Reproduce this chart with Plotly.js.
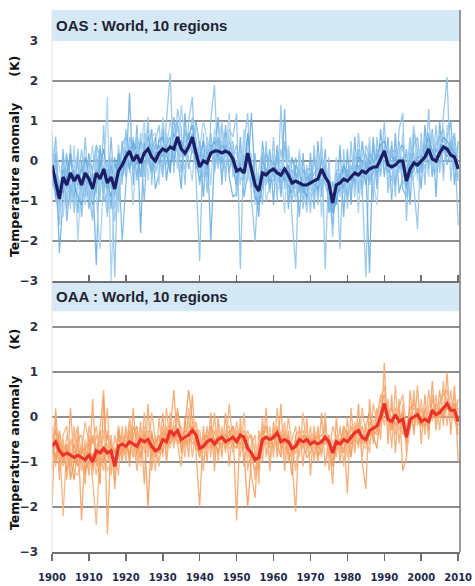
<!DOCTYPE html>
<html>
<head>
<meta charset="utf-8">
<script src="https://cdn.plot.ly/plotly-3.0.1.min.js"></script>
<style>html,body{margin:0;padding:0;background:#fff;}#chart{width:475px;height:586px;}</style>
</head>
<body>
<div id="chart"></div>
<script>
// ---------------- DATA ----------------
const firstYear = 1900, lastYear = 2010;
const years = [];
for (let y = firstYear; y <= lastYear; y++) years.push(y);

const panelTitles = ["OAS : World, 10 regions", "OAA : World, 10 regions"];
const yAxisTitle = "Temperature anomaly\u00a0\u00a0\u00a0\u00a0\u00a0\u00a0(K)";
const yTickValsTop = [-3, -2, -1, 0, 1, 2, 3];
const yTickValsBottom = [-3, -2, -1, 0, 1, 2];
const xTickVals = [1900,1910,1920,1930,1940,1950,1960,1970,1980,1990,2000,2010];

// OAS (top panel) – 10 regional series
const oasR1 = [0.5,-0.8,-1.6,0.2,-1.2,0.4,-1.1,0.3,-0.9,0.6,
 -0.9,-1.4,0.3,-1.0,0.9,-1.3,0.1,-2.9,0.4,-0.6,
 0.8,-0.3,0.6,-0.5,0.7,-0.4,1.1,-0.6,0.5,0.9,
 -0.2,0.9,2.2,-0.3,1.3,0.8,-0.6,1.0,1.6,-0.4,
 -2.5,0.7,-0.8,1.0,1.9,-0.2,0.9,-0.5,0.8,0.6,
 1.2,-2.7,0.4,1.2,-0.9,-2.0,-0.3,-1.1,0.5,-0.8,
 0.6,-1.0,1.4,-0.7,0.3,-1.4,-2.7,0.2,-1.2,-0.1,
 -1.3,0.4,-1.1,0.6,-2.7,0.1,-1.9,-0.2,-2.2,0.3,
 -1.2,0.5,-0.9,0.7,-0.6,-2.9,0.4,-1.0,0.6,-0.3,
 1.0,-0.8,0.5,-0.9,0.8,1.2,-1.5,0.4,-0.6,-1.7,
 0.7,-0.6,1.3,-0.4,0.9,-0.3,1.1,2.1,-0.5,0.6,
 -1.6];
const oasR2 = [-0.6,0.2,-2.3,-0.9,0.1,-1.0,-0.2,-1.3,0.0,-0.8,
 0.2,-0.3,-2.6,0.4,-0.8,-0.2,-1.2,0.1,-1.0,0.5,
 -0.4,1.7,-0.6,0.9,-1.8,0.7,0.2,0.8,-0.7,-0.3,
 0.9,-0.5,0.4,1.1,0.2,-0.7,1.2,-0.2,0.3,1.0,
 0.4,-0.9,0.6,-2.0,0.1,1.1,-0.6,0.7,-0.4,-0.9,
 -0.8,0.6,-0.9,-0.3,1.2,-0.5,-1.4,0.5,-0.4,0.3,
 -1.1,0.4,-0.8,1.3,-1.2,0.1,-0.3,-1.4,0.2,-1.1,
 0.2,-1.2,0.5,-0.9,0.3,-1.3,-0.5,-1.1,0.4,-1.4,
 0.3,-1.1,0.6,-0.8,0.5,-0.2,-2.8,0.6,-0.7,0.8,
 -0.4,0.6,-1.0,0.7,-0.8,-0.4,0.3,-1.1,0.8,0.2,
 -0.7,0.9,-0.2,0.8,-0.9,1.0,-0.3,0.6,1.0,-0.6,
 0.5];
const oasR3 = [0.3,-0.2,-0.5,-1.4,-0.3,-1.2,0.4,-2.0,-0.4,-1.1,
 -0.3,0.4,-0.9,-2.2,-0.4,1.6,-3.0,-0.5,-1.3,0.2,
 0.5,0.1,-1.1,0.4,0.3,1.0,-0.5,0.6,0.7,-0.6,
 1.1,0.3,1.0,0.5,-0.2,1.4,0.6,0.1,-0.5,0.9,
 0.3,1.0,0.5,-0.6,0.8,0.4,1.0,0.1,1.2,-0.4,
 -0.2,-0.6,0.8,-0.5,0.2,-1.1,-0.2,0.3,-1.0,-0.6,
 0.2,-0.6,-0.1,-1.3,0.4,-0.4,-1.0,0.3,-0.6,-1.3,
 -0.4,-1.0,0.2,-1.4,0.1,-0.6,-1.3,0.1,-0.9,-0.6,
 -0.3,-0.7,0.2,-1.3,0.3,-0.4,0.6,-0.5,-1.1,0.4,
 0.6,-0.4,-0.8,0.2,-0.3,0.7,-0.8,0.1,0.9,-0.5,
 0.4,0.2,-0.4,0.7,0.2,0.6,-0.5,0.9,0.5,-0.2,
 0.3];
const oasR4 = [-0.7,0.6,-1.1,0.3,-1.5,-0.6,-0.9,0.1,-1.4,-0.2,
 -1.2,-0.2,0.4,0.1,-1.0,-0.8,0.6,-0.9,0.1,-2.0,
 -0.6,0.6,0.3,-0.4,0.2,-1.0,0.8,-0.2,0.4,0.3,
 -0.4,0.6,-0.2,0.8,1.0,0.1,0.3,0.7,0.2,0.5,
 -0.6,0.2,-0.4,0.7,-0.2,0.6,-0.1,0.9,-0.3,0.4,
 -0.5,0.1,-0.6,0.6,-0.6,0.2,-1.0,0.2,-0.6,-0.2,
 -0.4,0.1,-0.9,0.5,-0.5,-1.0,-0.4,-0.8,-0.2,-0.7,
 -0.6,0.1,-0.8,-0.3,-0.6,-0.9,-1.6,-0.3,-0.8,-0.2,
 -0.9,-0.1,-0.6,0.3,-0.7,0.2,-0.6,0.5,-0.4,0.1,
 0.2,-0.3,0.4,-0.6,0.5,-0.7,-0.9,-0.2,0.4,0.6,
 -0.3,0.5,0.7,-0.4,0.4,0.6,0.8,-0.1,0.3,0.7,
 -0.4];
const oasR5 = [0.7,-1.0,-0.8,-0.2,0.2,-0.4,-1.3,-0.6,0.3,-0.5,
 -0.7,-1.5,-0.1,0.2,-0.6,-1.4,-0.2,-1.2,-0.5,0.3,
 0.2,0.4,-0.3,0.7,0.1,0.5,-0.1,0.3,-0.2,0.6,
 0.5,-0.1,0.3,0.2,0.9,0.2,-0.2,0.5,1.1,0.3,
 0.2,-0.4,0.3,0.6,-0.3,0.2,0.5,-0.2,0.3,0.5,
 -0.9,0.3,-0.1,0.5,-0.4,-0.7,-0.6,-0.2,0.2,-0.4,
 -0.2,-0.5,0.3,-0.4,-0.8,-0.2,-0.7,-0.5,-1.0,-0.3,
 -0.7,-0.9,-0.1,0.3,-0.4,-0.3,-1.0,-0.9,-0.3,-0.8,
 -0.5,-0.6,0.1,-0.2,-0.9,0.4,0.1,-0.3,0.2,-0.4,
 0.4,0.1,-0.5,0.3,0.1,-0.6,-0.3,0.6,-0.3,0.3,
 0.2,-0.2,0.5,0.1,-0.3,0.4,0.5,0.4,0.2,0.3,
 0.1];
const oasR6 = [-0.3,-0.9,-0.6,-0.8,-0.4,0.2,-0.6,-0.9,-1.1,0.1,
 -0.4,-1.1,-0.6,-0.1,0.3,-0.5,-0.9,-0.4,0.2,-0.3,
 0.3,-0.2,0.5,0.2,-0.4,0.4,0.6,0.3,0.1,0.5,
 0.6,0.2,-0.3,0.7,0.4,0.5,0.3,0.6,0.9,0.1,
 0.1,0.5,-0.2,0.3,0.5,0.1,0.4,0.3,0.2,-0.1,
 -0.3,-0.1,-0.4,0.7,-0.2,-0.9,-1.1,-0.6,-0.2,-0.5,
 -0.5,-0.2,-0.4,-0.3,-0.6,-0.8,-0.1,-0.3,-0.7,-0.9,
 -0.3,-0.6,-0.7,0.1,-0.2,-0.8,-1.3,-1.0,-0.5,-0.1,
 -0.4,-0.3,-0.5,0.1,0.0,-0.6,0.0,-0.2,0.1,0.4,
 0.5,0.2,0.1,0.0,0.3,0.4,-0.6,-0.4,-0.1,0.1,
 0.1,0.3,0.6,0.2,0.1,0.3,0.6,0.5,0.3,0.2,
 -0.1];
const oasR7 = [0.0,-0.4,-1.3,-0.1,-0.9,-0.5,-0.2,0.2,-0.8,-0.6,
 -0.8,-0.5,-0.4,-0.7,-0.1,-0.9,-0.4,-1.5,-0.7,-0.2,
 -0.3,0.5,0.1,0.0,0.4,0.2,0.7,0.4,-0.3,0.1,
 0.2,0.7,0.1,0.4,0.8,0.6,0.5,0.2,0.4,0.6,
 -0.3,0.3,0.4,0.5,0.2,-0.1,0.3,0.6,0.0,0.2,
 0.2,-0.5,-0.3,-0.2,-0.7,-0.3,-0.9,-0.4,-0.6,0.1,
 0.1,-0.7,-0.6,0.2,-0.3,-0.7,-0.9,-0.2,-0.4,-0.5,
 -0.9,-0.4,-0.6,-0.5,0.1,-0.9,-0.8,-0.4,-0.2,-0.6,
 -0.6,-0.2,-0.4,-0.6,-0.3,0.1,-0.4,0.1,-0.1,0.3,
 0.1,0.4,-0.2,-0.4,0.2,0.3,-0.2,-0.6,-0.4,-0.2,
 0.3,0.0,0.2,-0.2,0.5,0.1,0.2,0.4,0.0,0.4,
 0.2];
const oasR8 = [-0.5,-0.1,-0.7,-0.6,-0.2,-0.8,-0.4,-0.3,-0.7,-0.9,
 0.1,-0.9,-0.2,-0.5,-0.6,0.0,-0.7,-0.3,-0.4,0.4,
 0.6,0.2,-0.2,0.4,-0.3,-0.1,0.4,0.2,0.6,-0.1,
 0.4,0.1,0.5,-0.1,0.6,-0.3,0.8,0.3,0.5,-0.2,
 0.5,-0.2,0.1,0.2,0.6,0.4,-0.4,0.3,0.5,0.1,
 0.4,-0.3,0.1,0.3,-0.3,-0.8,-0.4,-0.7,0.2,-0.2,
 -0.4,0.3,-0.6,-0.4,-0.2,-0.5,0.1,-0.7,-0.5,-0.2,
 -0.2,-0.8,-0.4,-0.6,-0.3,-0.4,-1.1,-0.6,-0.7,-0.5,
 -0.3,-0.8,-0.1,-0.4,-0.1,0.0,-0.5,-0.3,0.3,0.0,
 0.0,-0.3,0.2,0.3,-0.2,0.1,-0.4,0.2,-0.2,0.0,
 -0.2,0.4,0.1,0.3,-0.1,0.0,0.4,0.2,0.5,-0.1,
 -0.5];
const oasR9 = [0.2,-0.7,-0.9,-0.2,-0.7,0.0,-0.3,-0.6,-0.2,-0.4,
 -0.6,-0.3,-0.8,0.3,-0.3,-0.7,-0.1,-0.6,0.0,-0.4,
 0.0,0.3,0.4,-0.1,0.5,0.3,0.1,-0.3,0.2,0.4,
 0.1,0.4,0.6,0.0,0.5,0.4,0.1,0.4,0.7,0.0,
 -0.5,0.1,0.2,0.4,0.3,0.0,0.1,0.4,0.3,-0.2,
 -0.6,0.0,-0.5,0.1,-0.1,-0.4,-0.8,0.0,-0.2,-0.7,
 0.0,-0.3,-0.2,-0.5,-0.1,-0.6,-0.3,-0.6,-0.8,-0.4,
 -0.5,-0.3,-0.2,0.0,-0.5,-0.7,-1.2,-0.8,-0.3,-0.7,
 -0.2,-0.5,-0.3,-0.1,-0.4,-0.3,0.2,0.0,-0.3,-0.1,
 0.3,0.0,-0.1,0.1,0.0,-0.2,-0.7,0.0,0.2,-0.3,
 -0.1,0.2,0.4,0.0,0.3,0.2,0.3,0.1,0.4,0.2,
 0.0];
const oasR10 = [-0.4,0.4,-0.2,-0.5,-0.8,-0.3,-0.1,-0.5,-1.0,-0.1,
 -0.5,-1.0,-0.3,-0.6,0.1,-0.4,-0.6,-0.2,-0.6,-0.1,
 0.4,0.0,0.2,0.3,0.0,0.6,0.2,0.0,0.3,0.2,
 0.3,0.5,0.2,0.6,0.3,0.1,0.4,0.5,0.3,0.4,
 0.0,-0.3,0.6,0.1,0.4,0.3,0.2,0.0,0.6,0.3,
 -0.1,0.2,-0.7,0.4,-0.5,-0.6,-0.5,-0.3,-0.5,-0.1,
 -0.6,-0.4,0.0,-0.2,-0.6,-0.3,-0.5,-0.4,-0.3,-0.8,
 -0.7,-0.5,-0.3,0.2,-0.6,-0.2,-1.0,-0.7,-0.6,-0.3,
 -0.7,-0.3,-0.4,-0.5,-0.2,-0.4,-0.2,-0.1,0.0,-0.2,
 0.2,-0.2,0.0,-0.3,0.4,-0.1,-0.5,-0.3,0.1,0.4,
 0.2,0.1,0.3,0.2,-0.2,0.5,0.4,0.3,0.1,0.0,
 -0.3];
const oasMean = [-0.1,-0.5,-0.95,-0.4,-0.6,-0.3,-0.5,-0.35,-0.6,-0.3,
 -0.45,-0.7,-0.3,-0.45,-0.2,-0.55,-0.4,-0.7,-0.25,-0.1,
 0.1,0.25,0.0,0.15,-0.05,0.2,0.3,0.1,0.0,0.2,
 0.3,0.25,0.35,0.3,0.6,0.3,0.2,0.35,0.6,0.2,
 -0.15,0.0,-0.05,0.2,0.25,0.25,0.2,0.25,0.2,0.05,
 -0.25,-0.2,-0.3,0.2,-0.2,-0.6,-0.75,-0.3,-0.35,-0.25,
 -0.2,-0.3,-0.35,-0.2,-0.35,-0.55,-0.5,-0.55,-0.6,-0.6,
 -0.55,-0.5,-0.45,-0.2,-0.4,-0.55,-1.05,-0.6,-0.55,-0.45,
 -0.5,-0.4,-0.3,-0.35,-0.25,-0.3,-0.2,-0.15,-0.15,0.05,
 0.25,-0.1,-0.15,-0.1,0.0,0.0,-0.5,-0.2,-0.05,-0.1,
 0.0,0.1,0.3,0.05,0.0,0.2,0.35,0.3,0.15,0.1,
 -0.2];

// OAA (bottom panel) – 10 regional series
const oaaR1 = [-2.0,0.1,-1.2,-0.5,-1.4,0.2,-1.0,-0.3,-2.3,-0.6,
 -1.3,0.4,-1.1,-0.2,0.6,-2.6,-0.4,-1.6,-0.3,-1.0,
 -0.2,-1.1,0.2,-0.9,-0.1,-1.5,0.3,-1.2,-0.4,-0.8,
 0.1,-1.0,-0.3,0.6,-0.6,-1.1,0.0,-0.9,0.5,-0.8,
 -2.0,-0.2,-1.0,0.1,-1.2,0.0,-0.9,0.1,-1.1,-0.2,
 -2.3,0.0,-1.1,-0.4,-1.3,-1.8,-0.3,-1.0,0.2,-1.2,
 -0.1,-0.9,0.3,-1.2,-0.3,-1.0,-2.1,-0.2,-1.1,0.0,
 -1.3,-0.2,-1.0,0.1,-1.1,-0.4,-1.5,0.0,-1.0,-0.3,
 -1.7,0.2,-0.8,0.3,-1.0,-1.6,0.4,-0.6,0.2,-0.5,
 1.2,-0.6,0.5,-0.8,0.4,-1.2,-0.9,0.6,-0.4,0.7,
 -0.6,0.5,-0.5,0.8,-0.3,0.6,-0.2,1.0,-0.4,0.7,
 -1.0];
const oaaR2 = [-0.3,-1.1,-0.4,-2.2,-0.6,-1.3,-0.2,-1.1,-0.8,-0.1,
 -0.6,-1.4,-2.4,-0.8,-1.2,-0.3,-1.1,-0.7,-1.3,-0.2,
 -1.0,0.0,-0.8,-0.3,-1.1,0.1,-0.7,-0.5,-1.2,0.0,
 -0.9,0.2,-0.7,-0.1,0.1,-0.3,-0.9,0.2,-0.4,-0.1,
 -0.6,-1.2,-0.2,-0.9,0.1,-1.0,-0.2,-0.8,0.3,-0.6,
 -0.3,-0.9,0.1,-1.2,-0.6,-0.4,-1.5,0.0,-0.9,-0.2,
 -0.9,0.2,-0.8,-0.1,-1.0,-0.5,-0.2,-0.9,0.1,-0.8,
 -0.2,-1.0,-0.3,-0.9,0.1,-1.2,-0.5,-0.9,-0.2,-1.1,
 0.0,-0.8,-0.1,-0.7,0.2,-0.4,-0.8,0.3,-0.1,0.5,
 -0.2,0.4,-0.7,0.7,-0.6,0.3,-0.8,-0.3,0.6,-0.2,
 0.4,-0.4,0.6,-0.1,0.5,-0.3,0.8,-0.2,0.6,-0.1,
 0.4];
const oaaR3 = [-0.8,-0.5,-1.0,-0.7,-1.2,-0.9,-1.4,-0.6,-1.0,-1.3,
 -0.4,-1.2,-0.7,-1.5,0.4,-0.9,-0.5,-1.4,-0.2,-0.7,
 -0.5,-0.9,-0.4,-0.2,-0.9,-0.3,-2.0,-0.3,-0.9,-0.6,
 -0.3,-0.6,-0.1,-0.5,0.2,-0.8,-0.2,0.6,-0.1,-0.6,
 -0.9,-0.4,-0.7,-0.2,-0.5,-0.8,-0.3,-0.6,-0.4,-0.2,
 -0.5,-0.2,-0.8,-2.0,-0.9,-1.2,-0.8,-0.4,-0.2,-0.7,
 -0.3,-0.6,-0.9,-0.3,-0.7,-1.3,-0.4,-0.3,-0.6,-0.9,
 -0.8,-0.4,-0.7,-0.6,-0.2,-0.8,-1.1,-0.7,-0.6,-0.2,
 -0.4,-0.9,-0.2,-0.3,-0.6,-0.2,0.1,-0.4,-0.7,0.2,
 0.5,0.1,-0.3,0.2,0.1,-0.4,-0.2,0.2,0.3,-0.1,
 -0.2,0.2,-0.3,0.4,0.1,0.3,0.5,0.6,0.2,0.3,
 0.0];
const oaaR4 = [-1.2,-0.2,-0.9,-1.1,-0.4,-0.7,-1.2,-1.3,-0.6,-1.1,
 -1.1,-0.8,-1.3,-0.5,-0.7,-1.2,-1.0,-0.9,-0.8,-0.5,
 -0.8,-0.4,-0.7,-1.0,-0.3,-0.6,-0.4,-0.9,-1.0,-0.9,
 -0.7,-0.3,-0.4,-0.6,-0.4,-0.2,-0.7,-0.5,-0.3,-0.2,
 -0.5,-0.8,-0.4,-0.6,-0.8,-0.3,-0.5,-0.4,-0.7,-0.6,
 -0.7,-0.4,-0.5,-0.8,-1.0,-0.9,-1.1,-0.7,-0.6,-0.4,
 -0.6,-0.4,-0.5,-0.7,-0.6,-0.8,-0.7,-0.4,-0.5,-0.3,
 -0.6,-0.7,-0.5,-0.4,-0.5,-0.7,-0.9,-0.6,-0.7,-0.5,
 -0.6,-0.4,-0.5,-0.2,-0.6,-0.7,-0.3,-0.2,-0.1,-0.2,
 0.3,-0.2,0.0,-0.1,-0.3,0.1,-0.5,0.0,0.2,0.1,
 -0.1,0.0,0.1,0.2,0.0,0.2,0.1,0.4,0.3,0.2,
 -0.2];
const oaaR5 = [-0.4,-0.7,-0.5,-0.9,-1.0,-0.5,-0.8,-0.7,-1.1,-0.8,
 -0.9,-1.0,-0.4,-0.6,-0.9,-0.6,-0.8,-1.2,-0.6,-0.9,
 -0.7,-0.6,-0.9,-0.5,-0.6,-0.7,-0.3,-0.8,-0.6,-0.5,
 -0.4,-0.7,-0.2,-0.3,-0.6,-0.5,-0.4,-0.3,-0.6,-0.5,
 -0.7,-0.6,-0.3,-0.4,-0.6,-0.5,-0.4,-0.7,-0.5,-0.4,
 -0.6,-0.5,-0.3,-0.6,-0.8,-1.0,-0.7,-0.5,-0.6,-0.5,
 -0.4,-0.5,-0.6,-0.4,-0.5,-0.6,-0.8,-0.6,-0.4,-0.6,
 -0.5,-0.6,-0.8,-0.6,-0.4,-0.5,-0.7,-0.5,-0.6,-0.7,
 -0.5,-0.6,-0.3,-0.4,-0.5,-0.4,-0.4,-0.3,-0.4,0.0,
 0.2,0.0,-0.2,0.1,-0.1,0.0,-0.4,-0.1,-0.1,0.2,
 0.0,-0.1,-0.2,0.1,0.2,0.0,0.1,0.2,0.1,0.0,
 -0.3];
const oaaR6 = [-0.6,-0.3,-0.7,-0.6,-0.8,-1.0,-0.6,-1.0,-0.7,-0.9,
 -0.7,-0.9,-1.0,-0.7,-0.8,-0.4,-0.6,-0.8,-0.5,-0.6,
 -0.4,-0.5,-0.6,-0.7,-0.4,-0.5,-0.6,-0.4,-0.7,-0.8,
 -0.5,-0.4,-0.5,-0.2,-0.5,-0.6,-0.3,-0.4,-0.2,-0.5,
 -0.6,-0.7,-0.5,-0.4,-0.5,-0.6,-0.6,-0.4,-0.5,-0.5,
 -0.5,-0.6,-0.4,-0.7,-0.8,-1.0,-0.8,-0.6,-0.4,-0.6,
 -0.5,-0.3,-0.5,-0.6,-0.5,-0.7,-0.6,-0.5,-0.6,-0.5,
 -0.6,-0.5,-0.6,-0.5,-0.6,-0.5,-0.8,-0.6,-0.5,-0.5,
 -0.6,-0.5,-0.4,-0.3,-0.4,-0.5,-0.3,-0.3,-0.2,0.1,
 0.3,0.0,-0.1,0.0,0.0,-0.1,-0.4,0.0,0.0,0.0,
 -0.1,0.0,-0.1,0.1,0.0,0.1,0.2,0.2,0.1,0.2,
 -0.1];
const oaaR7 = [-0.9,0.2,-1.4,-0.4,-0.2,-1.1,-0.5,-0.2,-0.9,-1.5,
 -0.2,-0.6,-0.2,-1.0,-0.4,0.2,-1.3,-0.4,-0.9,-0.4,
 -0.9,-0.1,-0.4,-1.2,-0.5,-0.2,-0.9,0.1,-0.5,-1.1,
 -0.2,-0.9,0.1,-0.7,0.0,-0.4,-0.6,0.0,-0.9,-0.3,
 -0.3,-1.0,-0.6,-0.3,-0.9,-0.1,-0.7,-0.3,-0.2,-0.8,
 -0.1,-0.7,-0.6,-0.3,-0.5,-1.4,-0.6,-0.2,-0.7,-0.9,
 -0.2,-0.7,-0.3,-0.9,0.0,-0.6,-1.2,-0.4,-0.3,-0.7,
 -0.4,-0.9,-0.2,-0.8,-0.1,-0.9,-0.2,-0.5,-0.8,-0.2,
 -0.9,-0.2,-0.5,-0.1,-0.9,-0.2,-0.6,-0.1,0.0,0.4,
 0.7,-0.4,0.3,-0.4,0.2,0.5,-0.3,-0.2,0.4,-0.1,
 0.2,-0.3,0.2,0.5,-0.2,0.3,0.6,0.4,0.0,0.5,
 0.1];
const oaaR8 = [-0.5,-0.9,-0.3,-0.8,-0.6,-1.4,-1.0,-0.5,-0.4,-1.2,
 -1.0,-0.4,-0.9,-0.3,-1.0,-0.7,-0.9,-1.0,-0.3,-0.8,
 -0.6,-0.8,-0.2,-0.5,-0.7,-0.4,-0.5,-0.9,-0.6,-0.4,
 -0.8,-0.2,-0.6,-0.4,-0.3,-0.7,-0.5,-0.6,-0.4,-0.7,
 -0.8,-0.5,-0.4,-0.7,-0.3,-0.6,-0.4,-0.5,-0.3,-0.6,
 -0.7,-0.3,-0.6,-0.5,-0.4,-0.8,-1.2,-0.3,-0.5,-0.4,
 -0.7,-0.2,-0.7,-0.5,-0.8,-0.9,-0.5,-0.6,-0.7,-0.4,
 -0.7,-0.4,-0.9,-0.7,-0.5,-0.4,-1.0,-0.6,-0.5,-0.8,
 -0.3,-0.6,-0.5,-0.6,-0.2,-0.6,-0.1,-0.4,-0.3,-0.2,
 0.1,0.1,0.2,-0.2,0.0,0.1,-0.6,0.1,-0.3,0.2,
 -0.2,0.1,0.0,0.0,0.3,0.1,0.0,0.3,0.2,0.3,
 -0.2];
const oaaR9 = [-0.2,-0.6,-0.8,-0.5,-1.1,-0.6,-0.3,-0.9,-1.2,-0.5,
 -0.8,-1.3,-0.6,-0.9,-0.3,-0.7,-0.4,-1.3,-0.7,-0.5,
 -0.5,-0.2,-0.8,-0.6,-0.2,-0.8,-0.3,-0.6,-0.8,-0.6,
 -0.6,-0.5,-0.3,-0.2,-0.5,-0.3,-0.5,-0.2,-0.5,-0.4,
 -0.4,-0.6,-0.8,-0.5,-0.3,-0.5,-0.3,-0.6,-0.6,-0.3,
 -0.6,-0.2,-0.5,-0.9,-0.7,-0.6,-0.9,-0.5,-0.3,-0.6,
 -0.8,-0.3,-0.4,-0.3,-0.6,-0.9,-0.8,-0.3,-0.7,-0.6,
 -0.5,-0.3,-0.5,-0.7,-0.3,-0.6,-0.9,-0.4,-0.6,-0.4,
 -0.7,-0.3,-0.2,-0.5,-0.3,-0.4,-0.2,-0.1,-0.3,-0.1,
 0.4,-0.2,0.0,0.2,-0.2,-0.2,-0.3,0.1,0.1,-0.1,
 0.1,0.2,-0.1,0.2,0.1,0.3,0.3,0.6,0.2,0.1,
 0.2];
const oaaR10 = [-0.7,-1.0,-0.6,-1.0,-0.7,-0.8,-0.9,-1.1,-0.8,-0.7,
 -0.6,-1.1,-0.8,-1.1,-0.9,-1.0,-0.7,-1.1,-0.9,-0.7,
 -0.7,-0.3,-0.6,-0.8,-0.5,-0.6,-0.5,-0.7,-0.8,-0.7,
 -0.5,-0.6,-0.4,-0.5,-0.4,-0.5,-0.6,-0.5,-0.3,-0.3,
 -0.6,-0.7,-0.6,-0.5,-0.7,-0.4,-0.5,-0.6,-0.6,-0.4,
 -0.5,-0.4,-0.7,-0.6,-0.9,-0.8,-1.0,-0.6,-0.5,-0.5,
 -0.4,-0.6,-0.4,-0.6,-0.4,-0.8,-0.5,-0.6,-0.4,-0.6,
 -0.5,-0.6,-0.4,-0.6,-0.5,-0.6,-0.7,-0.5,-0.6,-0.6,
 -0.4,-0.5,-0.4,-0.3,-0.5,-0.6,-0.4,-0.2,-0.3,-0.1,
 0.2,-0.1,-0.2,0.0,-0.1,-0.2,-0.5,-0.1,0.0,0.1,
 0.0,-0.2,0.0,0.1,0.0,0.2,0.0,0.3,0.1,0.0,
 -0.4];
const oaaMean = [-0.65,-0.55,-0.75,-0.85,-0.8,-0.85,-0.9,-0.85,-0.9,-0.95,
 -0.85,-1.0,-0.75,-0.8,-0.7,-0.8,-0.75,-1.1,-0.65,-0.6,
 -0.65,-0.55,-0.6,-0.65,-0.5,-0.55,-0.5,-0.65,-0.75,-0.7,
 -0.5,-0.55,-0.3,-0.4,-0.3,-0.5,-0.45,-0.4,-0.3,-0.4,
 -0.7,-0.65,-0.55,-0.5,-0.6,-0.5,-0.45,-0.55,-0.5,-0.45,
 -0.55,-0.4,-0.45,-0.7,-0.8,-0.95,-0.9,-0.5,-0.45,-0.5,
 -0.45,-0.35,-0.55,-0.5,-0.55,-0.7,-0.65,-0.5,-0.55,-0.5,
 -0.6,-0.55,-0.6,-0.55,-0.45,-0.55,-0.8,-0.55,-0.6,-0.5,
 -0.55,-0.45,-0.35,-0.3,-0.45,-0.5,-0.3,-0.25,-0.2,0.0,
 0.3,-0.05,-0.1,0.05,-0.1,-0.05,-0.45,-0.05,0.0,0.05,
 -0.1,-0.05,-0.1,0.15,0.05,0.1,0.2,0.3,0.15,0.15,
 -0.1];

const oasRegions = [oasR1,oasR2,oasR3,oasR4,oasR5,oasR6,oasR7,oasR8,oasR9,oasR10];
const oaaRegions = [oaaR1,oaaR2,oaaR3,oaaR4,oaaR5,oaaR6,oaaR7,oaaR8,oaaR9,oaaR10];

// ---------------- STYLE ----------------
const blueShades = ['#8fc3ea','#6fb0e2','#a6d0f0','#7cb8e6','#94c6ec','#5fa6de','#9fcbee','#82bbe7','#72b2e3','#a9d2f1'];
const orangeShades = ['#f7a467','#f5b07c','#f29a5a','#f8b588','#f4a86f','#f09555','#f7ad78','#f3a062','#f8b98e','#f49e5f'];

const traces = [];
oasRegions.forEach((vals, i) => traces.push({
  x: years, y: vals, type: 'scatter', mode: 'lines', xaxis: 'x2', yaxis: 'y',
  line: {color: blueShades[i], width: 1.3}, opacity: 0.9, hoverinfo: 'skip', showlegend: false
}));
traces.push({x: years, y: oasMean, type: 'scatter', mode: 'lines', xaxis: 'x2', yaxis: 'y',
  line: {color: '#1d1f66', width: 3.2}, showlegend: false});
oaaRegions.forEach((vals, i) => traces.push({
  x: years, y: vals, type: 'scatter', mode: 'lines', xaxis: 'x', yaxis: 'y2',
  line: {color: orangeShades[i], width: 1.3}, opacity: 0.9, hoverinfo: 'skip', showlegend: false
}));
traces.push({x: years, y: oaaMean, type: 'scatter', mode: 'lines', xaxis: 'x', yaxis: 'y2',
  line: {color: '#e8322b', width: 3.2}, showlegend: false});

const H = 511; // plot area height in px
const topDom = [(552 - 281) / H, 1];
const botDom = [0, (552 - 282) / H];
const gridC = '#8e8e8e';
const tickFont = {family: 'DejaVu Sans', size: 12, color: '#2e3040', weight: 'bold'};
const titleFont = {family: 'Liberation Sans', size: 15, color: '#1f2233', weight: 'bold'};
const yTitleFont = {family: 'DejaVu Sans', size: 12.5, color: '#111111', weight: 'bold'};

const layout = {
  width: 475, height: 586,
  margin: {l: 52, r: 15, t: 41, b: 34},
  paper_bgcolor: '#ffffff', plot_bgcolor: 'rgba(0,0,0,0)',
  showlegend: false,
  xaxis: {anchor: 'y2', range: [1900, 2010.5], tickvals: xTickVals, ticktext: xTickVals.map(String),
    showgrid: false, zeroline: false, showline: true, linecolor: '#6f6f6f', linewidth: 1.5,
    ticks: 'outside', ticklen: 7, tickwidth: 1.5, tickcolor: '#6f6f6f', ticklabelstandoff: 8,
    tickfont: {family: 'DejaVu Sans', size: 10, color: '#1e2a4a', weight: 'bold'}},
  xaxis2: {anchor: 'y', matches: 'x', range: [1900, 2010.5], tickvals: xTickVals, showticklabels: false,
    showgrid: false, zeroline: false, showline: true, linecolor: '#6f6f6f', linewidth: 1.5,
    ticks: 'inside', ticklen: 6, tickwidth: 1.5, tickcolor: '#6f6f6f'},
  yaxis: {domain: topDom, range: [-3, 3], tickvals: yTickValsTop, showgrid: true, gridcolor: gridC, gridwidth: 1.5,
    zeroline: false, showline: false, ticks: '', ticklabelstandoff: 13, tickfont: tickFont},
  yaxis2: {domain: botDom, range: [-3, 3], tickvals: yTickValsBottom, showgrid: true, gridcolor: gridC, gridwidth: 1.5,
    zeroline: false, showline: false, ticks: '', ticklabelstandoff: 13, tickfont: tickFont},
  shapes: [
    {type: 'rect', xref: 'paper', yref: 'paper', x0: 0, x1: 1, y0: 1, y1: 1 + 31 / H,
      fillcolor: '#d5e8f5', line: {width: 0}, layer: 'below'},
    {type: 'rect', xref: 'paper', yref: 'y2', x0: 0, x1: 1, y0: 2.35, y1: 3,
      fillcolor: '#d5e8f5', line: {width: 0}, layer: 'below'},
    {type: 'line', xref: 'paper', yref: 'paper', x0: 1, x1: 1, y0: 0, y1: 1 + 31 / H,
      line: {color: '#7a7a7a', width: 1.5}},
    {type: 'line', xref: 'paper', yref: 'paper', x0: 0, x1: 0, y0: 0, y1: 1 + 31 / H,
      line: {color: '#e2e2e2', width: 1}}
  ],
  annotations: [
    {text: panelTitles[0], xref: 'paper', yref: 'paper', x: 0, y: 1 + 15.5 / H, xanchor: 'left', yanchor: 'middle',
      xshift: 2, showarrow: false, font: titleFont},
    {text: panelTitles[1], xref: 'paper', yref: 'y2', x: 0, y: 2.67, xanchor: 'left', yanchor: 'middle',
      xshift: 2, showarrow: false, font: titleFont},
    {text: yAxisTitle, xref: 'paper', yref: 'paper', x: 0, y: (552 - 157) / H,
      xshift: -38, textangle: -90, showarrow: false, xanchor: 'center', yanchor: 'middle', font: yTitleFont},
    {text: yAxisTitle, xref: 'paper', yref: 'paper', x: 0, y: (552 - 430) / H,
      xshift: -38, textangle: -90, showarrow: false, xanchor: 'center', yanchor: 'middle', font: yTitleFont}
  ]
};

Plotly.newPlot('chart', traces, layout, {displayModeBar: false, staticPlot: true});
</script>
</body>
</html>
